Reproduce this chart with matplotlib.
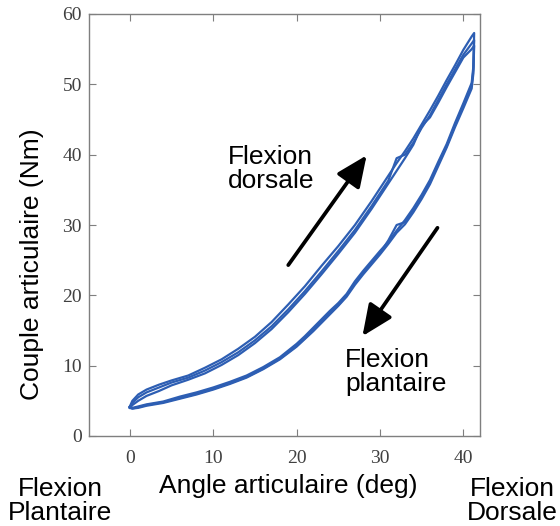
import matplotlib
matplotlib.use("Agg")
import matplotlib.pyplot as plt

# ---------------- data ----------------
load_angle = [0, 0.3, 1, 2, 3.5, 5, 7, 9, 11, 13, 15, 17, 19, 21, 23, 25, 27, 29,
              31, 32, 33, 34, 35, 36, 37, 38, 39, 40, 41, 41.3]
load_c1 = [4.2, 5.0, 5.9, 6.6, 7.3, 7.9, 8.6, 9.7, 10.9, 12.4, 14.1, 16.2, 18.7, 21.3,
           24.2, 27.0, 30.0, 33.4, 37.0, 38.8, 40.5, 42.3, 44.3, 46.3, 48.4, 50.6,
           52.7, 54.9, 56.8, 57.3]
load_c2 = [4.1, 4.7, 5.5, 6.2, 6.9, 7.6, 8.3, 9.3, 10.5, 11.9, 13.6, 15.6, 18.0, 20.6,
           23.4, 26.3, 29.3, 32.7, 36.3, 39.5, 40.0, 41.7, 43.8, 45.6, 47.8, 50.0,
           52.1, 54.2, 55.8, 56.3]
load_c3 = [4.0, 4.4, 5.0, 5.7, 6.4, 7.2, 8.0, 8.9, 10.1, 11.5, 13.2, 15.2, 17.6, 20.2,
           23.0, 25.9, 28.9, 32.3, 35.9, 37.7, 39.5, 41.4, 44.1, 45.3, 47.4, 49.6,
           51.7, 53.8, 55.0, 55.5]

unload_angle = [41.3, 41.2, 41.0, 40, 39, 38, 37, 36, 35, 34, 33, 32, 31, 30, 29, 28,
                27, 26, 25, 24, 23, 22, 21, 20, 18, 16, 14, 12, 10, 8, 6, 4, 2, 1, 0.3, 0]
unload_c1 = [57.3, 52.5, 50.2, 47.3, 44.5, 41.5, 39.0, 36.4, 34.3, 32.4, 30.7, 29.2,
             27.6, 26.3, 24.9, 23.5, 22.0, 20.2, 18.9, 17.8, 16.6, 15.4, 14.2, 13.1,
             11.2, 9.8, 8.6, 7.7, 6.9, 6.2, 5.6, 4.9, 4.5, 4.2, 4.0, 4.2]
unload_c2 = [56.3, 52.0, 49.8, 47.0, 44.2, 41.2, 38.7, 36.1, 34.0, 32.1, 30.4, 30.0,
             27.8, 26.0, 24.6, 23.2, 21.7, 20.0, 18.6, 17.5, 16.3, 15.1, 13.9, 12.8,
             11.0, 9.6, 8.4, 7.5, 6.7, 6.0, 5.4, 4.8, 4.4, 4.1, 3.9, 4.1]
unload_c3 = [55.5, 51.5, 49.4, 46.6, 43.9, 41.0, 38.4, 35.8, 33.7, 31.8, 30.1, 28.9,
             27.3, 25.8, 24.4, 23.0, 21.5, 19.8, 18.5, 17.3, 16.1, 14.9, 13.8, 12.7,
             10.9, 9.5, 8.3, 7.4, 6.6, 5.9, 5.3, 4.7, 4.3, 4.0, 3.9, 4.0]

x_ticks = [0, 10, 20, 30, 40]
y_ticks = [0, 10, 20, 30, 40, 50, 60]

arrow_dorsal = [(19.0, 24.3), (28.4, 39.9)]      # (tail, tip)
arrow_plantar = [(36.9, 29.6), (27.9, 14.2)]

# ---------------- figure ----------------
fig = plt.figure(figsize=(5.6, 5.26), dpi=100)
ax = fig.add_axes([89 / 560, 90 / 526, 391 / 560, 422 / 526])

blue = "#2d5eb3"
for la, ua in [(load_c1, unload_c1), (load_c2, unload_c2), (load_c3, unload_c3)]:
    ax.plot(load_angle + unload_angle, la + ua, color=blue, lw=1.6,
            solid_joinstyle="round")

ax.set_xlim(-4.9, 42)
ax.set_ylim(0, 60)
ax.set_xticks(x_ticks)
ax.set_yticks(y_ticks)

for sp in ax.spines.values():
    sp.set_color("#7f7f7f")
    sp.set_linewidth(1.0)

ax.tick_params(direction="in", length=5, width=0.8, color="#7f7f7f",
               top=True, right=True, labelcolor="#404040")
ax.tick_params(axis="x", pad=10)
ax.tick_params(axis="y", pad=5)
for lab in ax.get_xticklabels() + ax.get_yticklabels():
    lab.set_family("Liberation Serif")
    lab.set_fontsize(14)

arrow_kw = dict(arrowstyle="-|>,head_length=0.95,head_width=0.42", lw=2.7,
                color="black", mutation_scale=20, shrinkA=0, shrinkB=0)
ax.annotate("", xy=arrow_dorsal[1], xytext=arrow_dorsal[0], arrowprops=arrow_kw)
ax.annotate("", xy=arrow_plantar[1], xytext=arrow_plantar[0], arrowprops=arrow_kw)

sans = "Liberation Sans"
ax.text(16.9, 38.0, "Flexion\ndorsale", ha="center", va="center", fontsize=19,
        family=sans, linespacing=1.0)
ax.text(25.8, 9.1, "Flexion\nplantaire", ha="left", va="center", fontsize=19,
        family=sans, linespacing=1.0, multialignment="left")

fig.text(32 / 560, 1 - 264 / 526, "Couple articulaire (Nm)", rotation=90,
         ha="center", va="center", fontsize=19, family=sans)
fig.text(288.5 / 560, 1 - 486 / 526, "Angle articulaire (deg)", ha="center",
         va="center", fontsize=19, family=sans)
fig.text(60 / 560, 1 - 501 / 526, "Flexion\nPlantaire", ha="center", va="center",
         fontsize=19, family=sans, linespacing=1.0)
fig.text(512 / 560, 1 - 501 / 526, "Flexion\nDorsale", ha="center", va="center",
         fontsize=19, family=sans, linespacing=1.0)

fig.savefig("out.png", dpi=100)
